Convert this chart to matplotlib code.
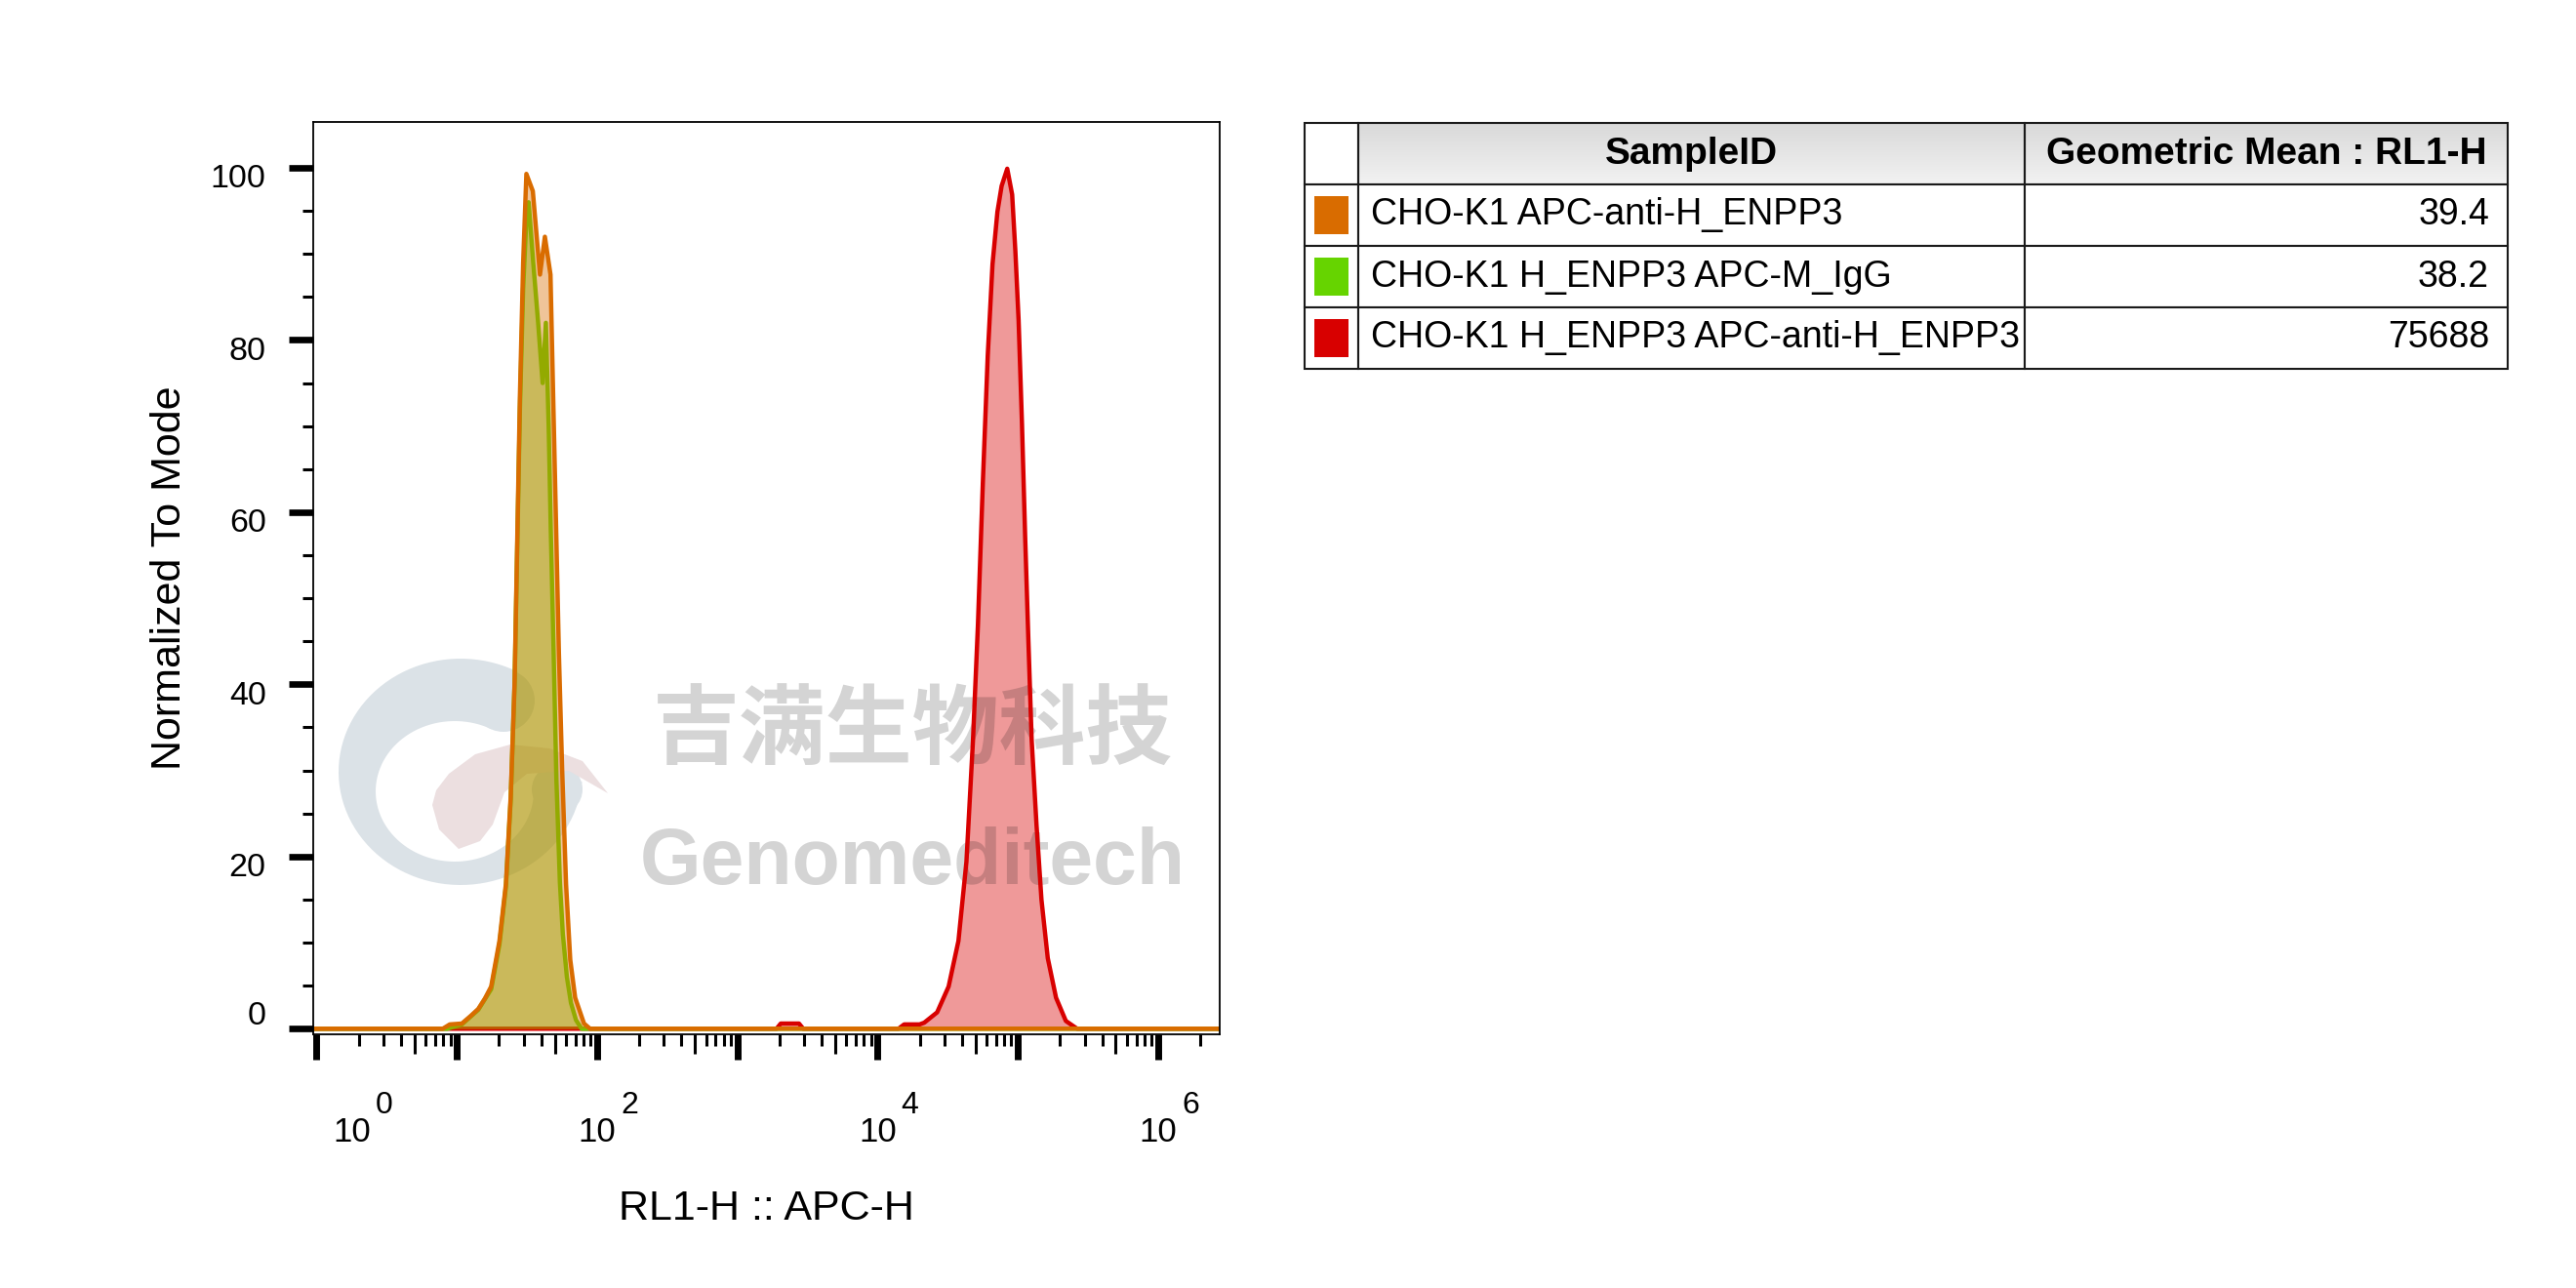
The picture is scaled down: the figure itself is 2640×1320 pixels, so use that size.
import numpy as np
import matplotlib
matplotlib.use('Agg')
import matplotlib.pyplot as plt
from matplotlib import transforms as mtransforms
from matplotlib import font_manager
from matplotlib.patches import Polygon, Circle, Rectangle
from matplotlib.colors import LinearSegmentedColormap
from matplotlib.ticker import FixedLocator, NullFormatter

plt.rcParams['font.family'] = ['Liberation Sans', 'DejaVu Sans']
installed = {f.name for f in font_manager.fontManager.ttflist}
narrow = 'Liberation Sans Narrow' in installed

# histogram outlines: x = log10(RL1-H), y = % of mode
orange_logx = [0.90, 0.95, 1.036, 1.10, 1.153, 1.20, 1.245, 1.304, 1.350, 1.384, 1.412, 1.431,
               1.450, 1.473, 1.496, 1.542, 1.593, 1.628, 1.668, 1.687, 1.710, 1.728, 1.751,
               1.779, 1.809, 1.844, 1.907, 1.95]
orange_y = [0, 0.5, 0.6, 1.5, 2.3, 3.5, 4.9, 10.2, 16.8, 26.9, 40.3, 56.9,
            73.6, 89.0, 99.3, 97.3, 87.6, 92.0, 87.6, 73.6, 56.9, 43.6, 30.2,
            16.8, 8.0, 3.6, 0.6, 0]

green_logx = [0.93, 1.036, 1.153, 1.245, 1.304, 1.350, 1.384, 1.412, 1.431, 1.450, 1.473,
              1.496, 1.512, 1.545, 1.58, 1.612, 1.635, 1.655, 1.67, 1.69, 1.71, 1.735,
              1.756, 1.785, 1.814, 1.85, 1.89]
green_y = [0, 0.5, 2.2, 4.6, 9.8, 16.5, 26.5, 40, 56, 72, 86,
           94, 96, 89, 82, 75, 82, 70, 58, 44, 29, 17,
           11, 6, 3, 1, 0]

red_logx = [3.28, 3.31, 3.44, 3.47, 4.15, 4.19, 4.30, 4.333, 4.425, 4.507, 4.577, 4.634,
            4.681, 4.716, 4.751, 4.786, 4.820, 4.855, 4.885, 4.925, 4.960, 4.983, 5.006,
            5.030, 5.053, 5.076, 5.099, 5.134, 5.169, 5.214, 5.273, 5.343, 5.423]
red_y = [0, 0.6, 0.6, 0, 0, 0.5, 0.5, 0.7, 1.9, 4.9, 10.2, 19.4,
         33.6, 46.9, 63.4, 78.2, 88.8, 94.9, 97.9, 99.9, 96.9, 90.3, 82.3,
         70.3, 57.0, 45.0, 33.6, 23.6, 15.0, 8.2, 3.6, 0.9, 0]

samples = ['CHO-K1 APC-anti-H_ENPP3', 'CHO-K1 H_ENPP3 APC-M_IgG', 'CHO-K1 H_ENPP3 APC-anti-H_ENPP3']
geo_means = ['39.4', '38.2', '75688']
colors = ['#d96c00', '#66d400', '#d80000']
headers = ['', 'SampleID', 'Geometric Mean : RL1-H']

decades = [0, 1, 2, 3, 4, 5, 6]
labelled_decades = [0, 2, 4, 6]
yticks = [0, 20, 40, 60, 80, 100]

W, H = 2640, 1320
fig = plt.figure(figsize=(W / 100, H / 100), dpi=100)
# figure pixel coords, y pointing down (for the watermark)
pix = mtransforms.Affine2D().scale(1 / W, -1 / H).translate(0, 1) + fig.transFigure

ax = fig.add_axes([321 / W, 1 - 1060 / H, 929 / W, 935 / H])
ax.set_xscale('log')
ax.set_xlim(10 ** -0.024, 10 ** 6.44)
ax.set_ylim(-0.65, 105.33)
for sp in ax.spines.values():
    sp.set_linewidth(1.3)

# watermark logo, behind the histograms
def arc(cx, cy, rx, ry, a0, a1, n=90):
    t = np.radians(np.linspace(a0, a1, n))
    return np.c_[cx + rx * np.cos(t), cy - ry * np.sin(t)]

ring = np.vstack([arc(472, 791, 125, 116, 62, 355), arc(466, 811, 81, 72, 355, 62)])
ax.add_patch(Polygon(ring, closed=True, transform=pix, fc='#dbe2e7', ec='none', zorder=0.5, clip_on=False))
ax.add_patch(Circle((516, 718), 32, transform=pix, fc='#dbe2e7', ec='none', zorder=0.5, clip_on=False))
ax.add_patch(Circle((571, 809), 26, transform=pix, fc='#dbe2e7', ec='none', zorder=0.5, clip_on=False))
comma = [(443, 825), (450, 850), (470, 870), (492, 862), (505, 845), (517, 812), (540, 793),
         (583, 790), (623, 813), (597, 780), (563, 767), (523, 763), (487, 773), (460, 793), (447, 810)]
ax.add_patch(Polygon(comma, closed=True, transform=pix, fc='#ecdfe0', ec='none', zorder=0.55, clip_on=False))

xmin, xmax = ax.get_xlim()
series = [(red_logx, red_y, colors[2]), (green_logx, green_y, colors[1]), (orange_logx, orange_y, colors[0])]
for i, (lx, yv, c) in enumerate(series):
    x = np.r_[xmin, 10 ** np.asarray(lx), xmax]
    y = np.r_[0, yv, 0]
    ax.fill_between(x, y, 0, color=c, alpha=0.4, lw=0, zorder=1 + 0.2 * i)
    ax.plot(x, y, color=c, lw=3.2, zorder=1.1 + 0.2 * i, solid_joinstyle='round')

ax.text(935, 751, '吉满生物科技', transform=pix, ha='center', va='center', fontsize=64,
        fontweight='bold', family=['Noto Sans CJK SC', 'DejaVu Sans'], color='black', alpha=0.17, zorder=1.05)
ax.text(935, 906, 'Genomeditech', transform=pix, ha='center', va='baseline', fontsize=58,
        fontweight='bold', color='black', alpha=0.17, zorder=1.05)

# y axis (labels placed by hand: FlowJo nudges them off the ticks)
ax.set_yticks(yticks)
ax.set_yticklabels([])
ax.yaxis.set_minor_locator(FixedLocator(np.arange(0, 101, 5)))
ax.tick_params(axis='y', which='major', length=18, width=4.8)
ax.tick_params(axis='y', which='minor', length=8, width=2.2)
for v in yticks:
    dy = 9.4 if v == 0 else -8.6
    ax.annotate(str(v), xy=(0, v), xycoords=('axes fraction', 'data'), xytext=(-34.8, dy),
                textcoords='offset points', ha='right', va='center', fontsize=24.5, annotation_clip=False)

# x axis: long ticks at decades, medium at 5x, short at the rest
ax.xaxis.set_major_locator(FixedLocator([10.0 ** d for d in decades] + [5 * 10.0 ** d for d in decades]))
ax.xaxis.set_minor_locator(FixedLocator([m * 10.0 ** d for d in range(-1, 7) for m in (2, 3, 4, 6, 7, 8, 9)]))
ax.xaxis.set_major_formatter(NullFormatter())
ax.xaxis.set_minor_formatter(NullFormatter())
ax.tick_params(axis='x', which='major', length=19, width=5)
ax.tick_params(axis='x', which='minor', length=8.6, width=2.2)
for t in ax.xaxis.get_major_ticks()[len(decades):]:
    t.tick1line.set_markersize(14.4)
    t.tick1line.set_markeredgewidth(2.2)

tick_family = ['Liberation Sans Narrow', 'DejaVu Sans'] if narrow else ['Liberation Sans', 'DejaVu Sans']
base_fs, exp_fs = (27, 24) if narrow else (25, 23)
for d in labelled_decades:
    dx = 26 if d == 0 else 0
    ax.annotate('10', xy=(10.0 ** d, 0), xycoords=('data', 'axes fraction'), xytext=(dx, -79),
                textcoords='offset points', ha='center', va='baseline', fontsize=base_fs,
                family=tick_family, annotation_clip=False)
    ax.annotate(str(d), xy=(10.0 ** d, 0), xycoords=('data', 'axes fraction'), xytext=(dx + 17.5, -58),
                textcoords='offset points', ha='left', va='baseline', fontsize=exp_fs,
                family=tick_family, annotation_clip=False)

ax.set_ylabel('Normalized To Mode', fontsize=31, va='center')
ax.yaxis.set_label_coords((174 - 321) / 929, 0.5)
ax.set_xlabel('RL1-H :: APC-H', fontsize=31, va='baseline')
ax.xaxis.set_label_coords(0.5, -(1250 - 1060) / 935)

# statistics table
tab = fig.add_axes([1337 / W, 1 - 378 / H, 1233 / W, 252 / H])
tab.set_axis_off()
col_w = [55, 683, 495]
cell_text = [headers] + [['', s, m] for s, m in zip(samples, geo_means)]
tbl = tab.table(cellText=cell_text, colWidths=[w / sum(col_w) for w in col_w], bbox=[0, 0, 1, 1], cellLoc='left')
tbl.auto_set_font_size(False)
tbl.set_zorder(2)
for (r, c), cell in tbl.get_celld().items():
    cell.set_linewidth(1.5)
    cell.set_edgecolor('#1a1a1a')
    txt = cell.get_text()
    txt.set_fontsize(27)
    if r == 0:
        txt.set_ha('center')
        txt.set_fontsize(28)
        txt.set_fontweight('bold')
        if c > 0:
            cell.set_facecolor('none')
    elif c == 2:
        txt.set_ha('right')
        cell.PAD = 19 / 495
    elif c == 1:
        cell.PAD = 13 / 683

grad = LinearSegmentedColormap.from_list('hdr', ['#f2f2f2', '#d9d9d9'])
tab.imshow(np.linspace(0, 1, 50)[:, None], cmap=grad, origin='lower', aspect='auto',
           extent=[col_w[0] / sum(col_w), 1, 0.75, 1], zorder=0)
for i, c in enumerate(colors):
    yc = 1 - (i + 1.5) * 0.25
    tab.add_patch(Rectangle((10 / 1233, yc - 39 / 252 / 2), 35 / 1233, 39 / 252,
                            fc=c, ec='none', zorder=3))
tab.set_xlim(0, 1)
tab.set_ylim(0, 1)

fig.savefig('out.png', dpi=100)
